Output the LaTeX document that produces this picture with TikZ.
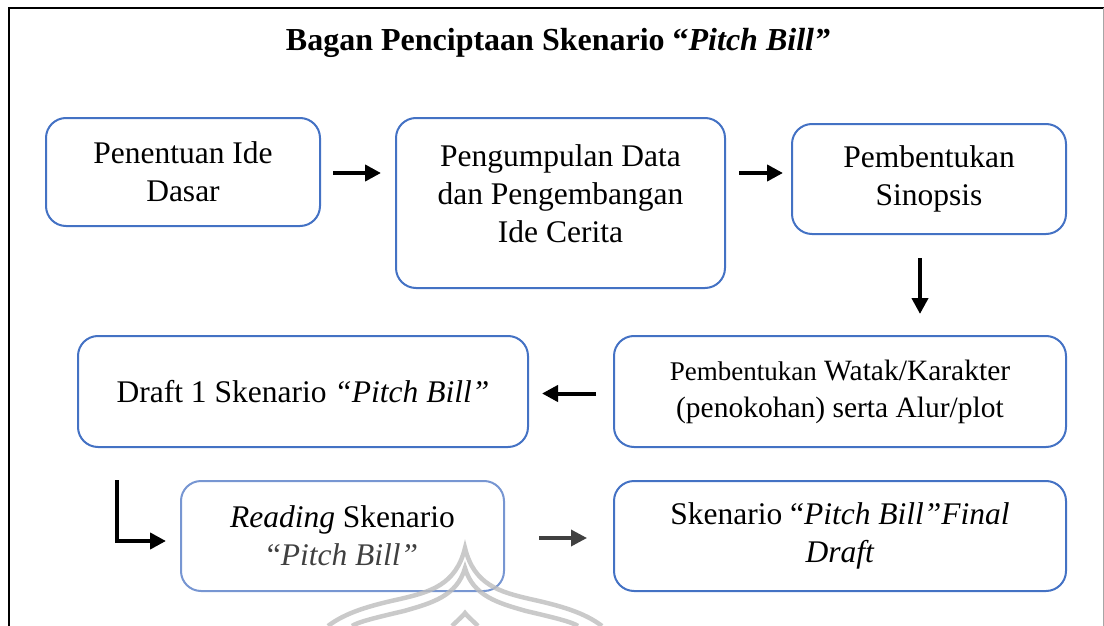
\documentclass[tikz,border=0pt]{standalone}
\usepackage{fontspec}
\setmainfont{Liberation Serif}
\usetikzlibrary{arrows.meta,calc}
\definecolor{boxblue}{HTML}{4472C4}
\definecolor{boxfade}{HTML}{7796D2}
\definecolor{arrgray}{HTML}{404040}
\definecolor{wmgray}{HTML}{BDBDBD}
\begin{document}
\begin{tikzpicture}[x=1pt,y=-1pt,
  stepbox/.style={draw=boxblue, line width=2pt, rounded corners=20pt, align=center,
    inner sep=0pt, font=\fontsize{31.5}{38}\selectfont},
  arr/.style={line width=4pt, line join=miter, -{Triangle[length=16pt,width=16pt]}},
  wm/.style={wmgray, line width=4.5pt, opacity=0.8},
]
\useasboundingbox (0,0) rectangle (1104,626);
% frame
\draw[line width=2.5pt] (9,626) -- (9,8) -- (1104,8);
\draw[gray!70, line width=1pt] (1103,8) -- (1103,626);

% title
\node[font=\bfseries\fontsize{32}{38}\selectfont] (title) at (558,43)
  {Bagan Penciptaan Skenario “\textit{Pitch Bill”}};

% boxes
\node[stepbox, minimum width=274pt, minimum height=108pt] (b1) at (183,172)
  {Penentuan Ide\\Dasar};
\node[stepbox, minimum width=329pt, minimum height=170pt,
  label={[font=\fontsize{31.5}{38}\selectfont, align=center, yshift=9pt]center:Pengumpulan Data\\dan Pengembangan\\Ide Cerita}] (b2) at (560.5,203) {};
\node[stepbox, minimum width=274pt, minimum height=110pt] (b3) at (929,179)
  {Pembentukan\\Sinopsis};
\node[stepbox, minimum width=452pt, minimum height=111pt,
  font=\fontsize{29.5}{37}\selectfont] (b4) at (840,391.5)
  {{\fontsize{27}{37}\selectfont Pembentukan} Watak/Karakter\\(penokohan) serta Alur/plot};
\node[stepbox, minimum width=450pt, minimum height=111pt] (b5) at (303,391.5)
  {Draft 1 Skenario \textit{“Pitch Bill”}};
\node[stepbox, draw=boxfade, minimum width=323pt, minimum height=110pt] (b6) at (342.5,536)
  {\textit{Reading} Skenario\\\textcolor{arrgray}{“\textit{Pitch Bill”}}};
\node[stepbox, minimum width=452pt, minimum height=110pt] (b7) at (840,536)
  {Skenario “\textit{Pitch Bill”Final}\\\textit{Draft}};

% connectors
\draw[arr] ($(b1.east)+(12,1)$) -- ($(b1.east -| b2.west)+(-14,1)$);
\draw[arr] ($(b2.east |- b1.east)+(13,1)$) -- ($(b3.west |- b1.east)+(-8,1)$);
\draw[arr] ($(b3.south)+(-9,23)$) -- ($(b3.south |- b4.north)+(-9,-21)$);
\draw[arr] ($(b4.west)+(-17,2)$) -- ($(b5.east)+(13,2)$);
\draw[arr] ($(b5.south west)+(40,32)$) |- ($(b6.west)+(-14,5)$);
\draw[arr, arrgray, line width=3.5pt] ($(b6.east)+(34,2)$) -- ($(b7.west)+(-26,2)$);

% faint watermark
\draw[wm] (328,626) .. controls (345,613) and (368,606) .. (400,599)
  .. controls (430,592) and (456,585) .. (465,548)
  .. controls (474,585) and (500,592) .. (530,599)
  .. controls (562,606) and (585,613) .. (602,626);
\draw[wm] (352,626) .. controls (358,622) and (374,618) .. (404,611)
  .. controls (432,603) and (457,596) .. (465,568)
  .. controls (473,596) and (498,603) .. (526,611)
  .. controls (556,618) and (572,622) .. (578,626);
\draw[wm] (452,626) .. controls (458,620) and (463,616) .. (465,613)
  .. controls (467,616) and (472,620) .. (478,626);
\end{tikzpicture}
\end{document}
